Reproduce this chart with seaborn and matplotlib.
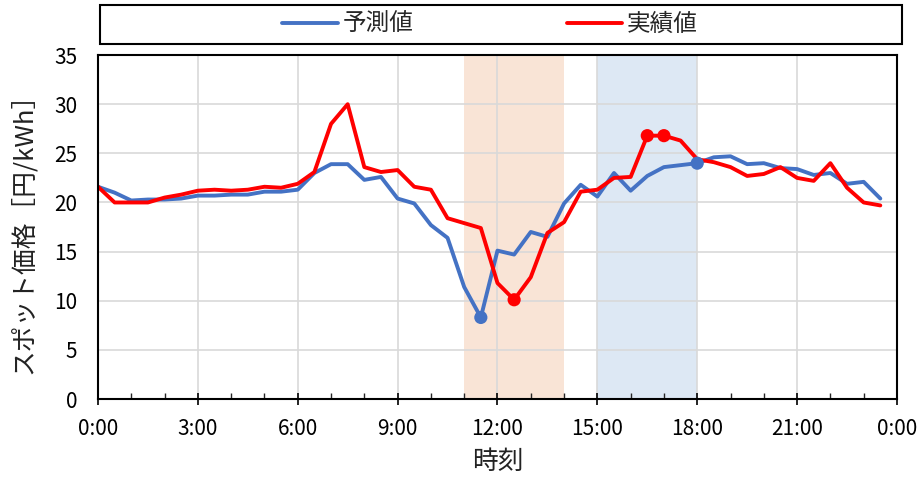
import numpy as np
import pandas as pd
import matplotlib
matplotlib.use("Agg")
import matplotlib.pyplot as plt
from matplotlib.patches import Rectangle
from matplotlib.lines import Line2D
from matplotlib.ticker import MultipleLocator, FuncFormatter
import seaborn as sns

# 30-minute slots across one day (hours)
hours = [h * 0.5 for h in range(48)]

# Forecast spot price [円/kWh]
forecast = [21.6, 21.0, 20.2, 20.3, 20.3, 20.4, 20.7, 20.7, 20.8, 20.8, 21.1, 21.1,
            21.3, 23.0, 23.9, 23.9, 22.3, 22.6, 20.4, 19.9, 17.7, 16.4, 11.4, 8.3,
            15.1, 14.7, 17.0, 16.5, 19.9, 21.8, 20.6, 23.0, 21.2, 22.7, 23.6, 23.8,
            24.0, 24.6, 24.7, 23.9, 24.0, 23.5, 23.4, 22.8, 23.0, 21.9, 22.1, 20.4]

# Actual spot price [円/kWh]
actual = [21.6, 20.0, 20.0, 20.0, 20.5, 20.8, 21.2, 21.3, 21.2, 21.3, 21.6, 21.5,
          21.9, 23.1, 28.0, 30.0, 23.6, 23.1, 23.3, 21.6, 21.3, 18.4, 17.9, 17.4,
          11.8, 10.1, 12.4, 16.9, 18.0, 21.1, 21.3, 22.5, 22.6, 26.8, 26.8, 26.3,
          24.4, 24.1, 23.6, 22.7, 22.9, 23.6, 22.5, 22.2, 24.0, 21.5, 20.0, 19.7]

series_names = ["予測値", "実績値"]
series_colors = ["#4472C4", "#FF0000"]

# Highlighted points (hour of day) for each series
forecast_marks = [11.5, 18.0]
actual_marks = [12.5, 16.5, 17.0]

# Shaded time windows
band_low = (11.0, 14.0)
band_high = (15.0, 18.0)

x_ticks = [0, 3, 6, 9, 12, 15, 18, 21, 24]

sns.set_theme(style="white")
plt.rcParams["font.family"] = ["Noto Sans CJK JP", "DejaVu Sans"]

df = pd.DataFrame({
    "hour": hours * 2,
    "price": forecast + actual,
    "series": [series_names[0]] * len(hours) + [series_names[1]] * len(hours),
})

fig = plt.figure(figsize=(9.21, 4.79), dpi=100)
ax = fig.add_axes([0.1064, 0.167, 0.8675, 0.718])

ax.axvspan(*band_low, color="#F9E4D6", lw=0, zorder=0)
ax.axvspan(*band_high, color="#DDE8F4", lw=0, zorder=0)

sns.lineplot(data=df, x="hour", y="price", hue="series", palette=series_colors,
             hue_order=series_names, linewidth=2.8, legend=False, ax=ax, zorder=3)

fm = df[(df["series"] == series_names[0]) & (df["hour"].isin(forecast_marks))]
am = df[(df["series"] == series_names[1]) & (df["hour"].isin(actual_marks))]
sns.scatterplot(data=fm, x="hour", y="price", color=series_colors[0], s=90,
                edgecolor="none", legend=False, ax=ax, zorder=4)
sns.scatterplot(data=am, x="hour", y="price", color=series_colors[1], s=90,
                edgecolor="none", legend=False, ax=ax, zorder=4)

ax.set_xlim(0, 24)
ax.set_ylim(0, 35)
ax.set_xticks(x_ticks)
ax.xaxis.set_major_formatter(FuncFormatter(lambda v, p: f"{int(v) % 24}:00"))
ax.xaxis.set_minor_locator(MultipleLocator(1))
ax.yaxis.set_major_locator(MultipleLocator(5))

ax.grid(True, which="major", color="#D9D9D9", linewidth=1.2)
ax.set_axisbelow(True)
for s in ax.spines.values():
    s.set_color("black")
    s.set_linewidth(1.5)
    s.set_zorder(5)

ax.tick_params(axis="x", which="major", direction="inout", length=8, width=1.2,
               labelsize=15, pad=10, colors="black", bottom=True)
ax.tick_params(axis="x", which="minor", direction="in", length=4, width=1.0,
               bottom=True)
ax.tick_params(axis="y", which="major", direction="out", length=0, labelsize=15,
               pad=15, colors="black", left=True)

ax.set_xlabel("時刻", fontsize=18.5, labelpad=6, color="#222222")
ax.set_ylabel("スポット価格［円/kWh］", fontsize=18.5, labelpad=12, color="#222222")

# Legend panel above the plot
fig.patches.append(Rectangle((0.1086, 0.908), 0.8708, 0.0816, transform=fig.transFigure,
                             facecolor="white", edgecolor="black", linewidth=1.5,
                             zorder=1))
handles = [Line2D([], [], color=c, linewidth=2.8) for c in series_colors]
fig.legend(handles, series_names, loc="center", bbox_to_anchor=(0.532, 0.949),
           ncol=2, frameon=False, fontsize=17, handlelength=2.35,
           handletextpad=0.2, columnspacing=6.5)

fig.savefig("out.png", dpi=100)
